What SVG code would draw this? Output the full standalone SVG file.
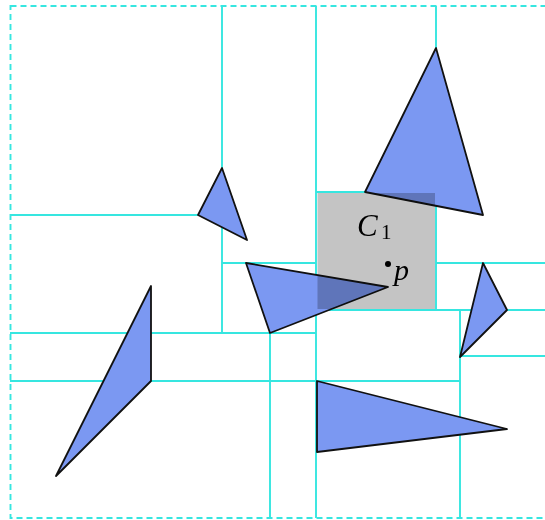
<svg xmlns="http://www.w3.org/2000/svg" width="545" height="520" viewBox="0 0 545 520">
<style>
.ln{stroke:#36e6e0;stroke-width:1.9;fill:none}
.bd{stroke:#36e6e0;stroke-width:1.9;fill:none;stroke-dasharray:6 4}
.tri{fill:#7b98f2;stroke:#111;stroke-width:1.8;stroke-linejoin:round}
.lab{font-family:"Liberation Serif",serif;font-style:italic;fill:#000}
</style>
<rect width="545" height="520" fill="#fff"/>
<g id="connectors">
<rect class="bd" x="10.5" y="6" width="540" height="512"/>
<path class="ln" d="M222,6V333 M316,6V518 M436,6V310 M10,215H198 M222,263H316 M436,263H545 M316,192H365 M316,310H545 M10,333H316 M10,381H460 M270,333V518 M460,310V518 M460,356H545"/>
</g>
<g id="t-top"><polygon class="tri" points="436,48 365,192 483,215"/></g>
<g id="t-small"><polygon class="tri" points="222,168 198,215 247,240"/></g>
<g id="t-mid"><polygon class="tri" points="246,263 270,333 388,287"/></g>
<g id="t-right"><polygon class="tri" points="483,263 507,310 460,357"/></g>
<g id="t-left"><polygon class="tri" points="151,286 151,381 56,476"/></g>
<g id="t-bottom"><polygon class="tri" points="317,381 317,452 507,429"/></g>
<g id="C1">
<rect x="317.5" y="193" width="117.5" height="116" fill="#c4c4c4" style="mix-blend-mode:multiply"/>
<text class="lab" x="357" y="236" font-size="31">C</text>
<text x="381" y="239" font-size="21" font-family="Liberation Serif,serif">1</text>
</g>
<g id="p">
<circle cx="388" cy="264" r="3"/>
<text class="lab" x="394" y="280" font-size="30">p</text>
</g>
</svg>
